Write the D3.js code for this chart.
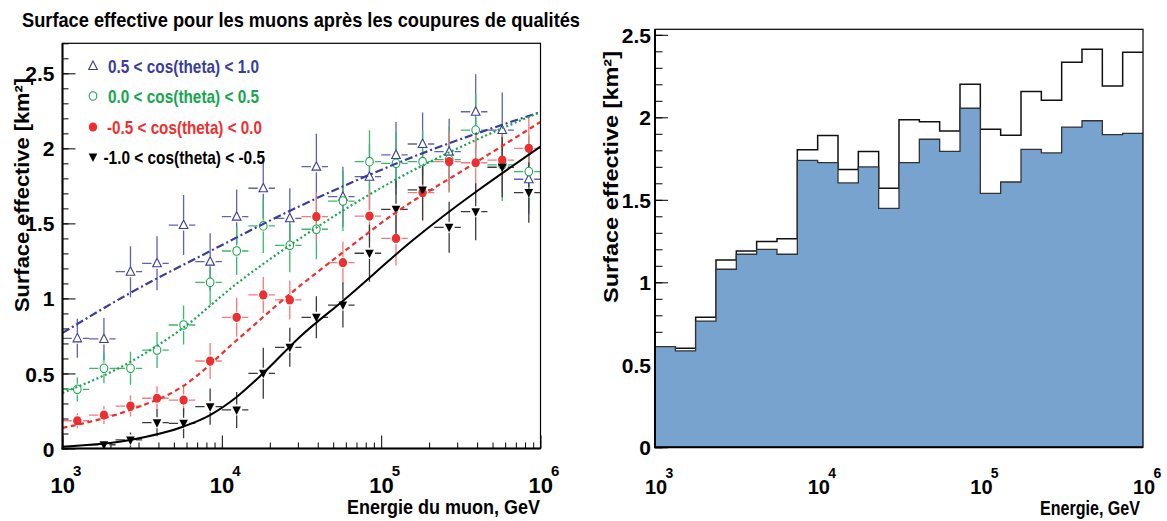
<!DOCTYPE html>
<html><head><meta charset="utf-8">
<script src="https://cdn.jsdelivr.net/npm/d3@7"></script>
<style>
body{margin:0;background:#fff}
text{font-family:"Liberation Sans Narrow","Arial Narrow","Liberation Sans",Arial,sans-serif;font-weight:bold}
</style>
</head><body>
<svg id="c" width="1167" height="521"></svg>
<script>
// ---------------- DATA ----------------
// left panel: energy points (GeV) and bin edges
const energies = [1239,1820,2671,3920,5754,8445,12390,18200,26710,39200,57540,84450,123900,182000,267100,392000,575400,844500];
const binEdges = [1000,1468,2154,3162,4642,6813,10000,14678,21544,31623,46416,68129,100000,146780,215440,316230,464160,681290,1000000];

const seriesLabels = ["0.5 < cos(theta) < 1.0","0.0 < cos(theta) < 0.5","-0.5 < cos(theta) < 0.0","-1.0 < cos(theta) < -0.5"];

const valuesBlue  = [0.734,0.730,1.178,1.234,1.489,1.245,1.545,1.734,1.534,1.878,1.678,1.811,1.956,2.029,1.978,2.244,2.122,1.794];
const errorsBlue  = [0.13,0.14,0.17,0.18,0.20,0.19,0.18,0.20,0.20,0.22,0.20,0.22,0.22,0.21,0.22,0.25,0.25,0.23];
const valuesGreen = [0.394,0.534,0.534,0.656,0.823,1.107,1.316,1.483,1.354,1.461,1.649,1.911,1.900,1.911,1.925,2.122,1.890,1.845];
const errorsGreen = [0.08,0.10,0.11,0.12,0.13,0.15,0.16,0.18,0.18,0.20,0.20,0.21,0.21,0.21,0.22,0.24,0.24,0.24];
const valuesRed   = [0.185,0.223,0.283,0.335,0.323,0.583,0.874,1.023,0.990,1.545,1.238,1.549,1.400,1.705,1.911,1.904,1.922,2.000];
const errorsRed   = [0.05,0.06,0.07,0.08,0.09,0.12,0.13,0.12,0.13,0.16,0.14,0.17,0.18,0.19,0.20,0.21,0.22,0.22];
const valuesBlack = [null,0.025,0.057,0.172,0.168,0.279,0.257,0.501,0.674,0.874,0.956,1.301,1.594,1.723,1.474,1.578,1.874,1.705];
const errorsBlack = [null,0.03,0.05,0.09,0.10,0.12,0.12,0.17,0.13,0.14,0.15,0.19,0.19,0.20,0.17,0.19,0.20,0.20];

// fitted curves: [energy, value]
const fitBlue  = [[1000,0.770],[2656,1.036],[8435,1.315],[30970,1.616],[141300,1.922],[1000000,2.242]];
const fitGreen = [[1000,0.370],[2656,0.576],[5700,0.803],[12450,1.100],[30970,1.400],[122200,1.789],[542000,2.122],[1000000,2.242]];
const fitRed   = [[1000,0.137],[2656,0.257],[5700,0.415],[12450,0.723],[26790,1.030],[56890,1.303],[122200,1.569],[361400,1.882],[1000000,2.176]];
const fitBlack = [[1000,0.012],[2656,0.057],[5700,0.145],[8435,0.223],[12450,0.345],[18150,0.501],[30970,0.745],[57680,0.985],[158500,1.389],[1000000,2.012]];

const yTicksLeft  = [0,0.5,1,1.5,2,2.5];
const yTickLabelsLeft = ["0","0.5","1","1.5","2","2.5"];
const decadeTicks = [1e3,1e4,1e5,1e6];
const decadeExponents = ["3","4","5","6"];

// right panel histogram: 24 log bins (8 per decade)
const histEdges = [1000,1334,1778,2371,3162,4217,5623,7499,10000,13335,17783,23714,31623,42170,56234,74989,100000,133352,177828,237137,316228,421697,562341,749894,1000000];
const histAll = [0.610,0.600,0.788,1.135,1.190,1.248,1.264,1.804,1.889,1.683,1.792,1.570,1.985,1.973,1.917,2.200,1.927,1.891,2.156,2.103,2.333,2.412,2.190,2.394];
const histCut = [0.610,0.585,0.765,1.079,1.170,1.200,1.170,1.739,1.725,1.602,1.699,1.448,1.725,1.867,1.794,2.055,1.539,1.608,1.806,1.784,1.941,1.979,1.895,1.903];
const yTicksRight = [0,0.5,1,1.5,2,2.5];
const yTickLabelsRight = ["0","0.5","1","1.5","2","2.5"];

// ---------------- DRAW ----------------
const svg = d3.select("#c");
const FONT = "\"Liberation Sans Narrow\",\"Arial Narrow\",\"Liberation Sans\",Arial,sans-serif";

function styleAxis(g){
  g.select(".domain").remove();
  g.selectAll(".tick line").attr("stroke","#000").attr("stroke-width",1);
  g.selectAll(".tick text").attr("fill","#000").style("font-family",FONT).style("font-weight","bold");
}
function minorRange(lo,hi,step){ const a=[]; for(let v=lo; v<=hi+1e-9; v+=step) a.push(+v.toFixed(3)); return a; }
function logMinors(lo,hi){ const a=[]; for(let d=lo; d<hi; d*=10) for(let m=2;m<=9;m++) a.push(d*m); return a; }

// ===== LEFT PANEL =====
const xL = d3.scaleLog().domain([1e3,1e6]).range([62.5,540.5]);
const yL = d3.scaleLinear().domain([0,2.7]).range([448.5,43.3]);

svg.append("text").attr("x",22).attr("y",27).attr("font-size",21)
  .attr("textLength",558).attr("lengthAdjust","spacingAndGlyphs")
  .text("Surface effective pour les muons après les coupures de qualités");

const gL = svg.append("g");
gL.append("g").attr("transform","translate(62.5,0)")
  .call(d3.axisLeft(yL).tickValues(minorRange(0,2.7,0.1)).tickSize(-6).tickFormat("")).call(styleAxis);
gL.append("g").attr("transform","translate(62.5,0)")
  .call(d3.axisLeft(yL).tickValues(yTicksLeft).tickSize(-13).tickPadding(8).tickFormat((d,i)=>yTickLabelsLeft[i]))
  .call(styleAxis).selectAll("text").attr("font-size",21).attr("dy","0.36em");
gL.append("g").attr("transform","translate(0,448.5)")
  .call(d3.axisBottom(xL).tickValues(logMinors(1e3,1e6)).tickSize(-6).tickFormat("")).call(styleAxis);
gL.append("g").attr("transform","translate(0,448.5)")
  .call(d3.axisBottom(xL).tickValues(decadeTicks).tickSize(-13).tickFormat("")).call(styleAxis);
decadeTicks.forEach((d,i)=>{
  const x = xL(d);
  svg.append("text").attr("x",x-12).attr("y",493).attr("font-size",22).text("10");
  svg.append("text").attr("x",x+10.5).attr("y",476).attr("font-size",15).text(decadeExponents[i]);
});
svg.append("text").attr("x",347).attr("y",514).attr("font-size",20)
  .attr("textLength",193).attr("lengthAdjust","spacingAndGlyphs").text("Energie du muon, GeV");
svg.append("text").attr("transform","translate(29,312) rotate(-90)").attr("font-size",20)
  .attr("textLength",234).attr("lengthAdjust","spacingAndGlyphs").text("Surface effective [km²]");

svg.append("clipPath").attr("id","clipL").append("rect").attr("x",62.5).attr("y",43.3).attr("width",478).attr("height",405.2);
const plotL = svg.append("g").attr("clip-path","url(#clipL)");

const series = [
  {vals:valuesBlue, errs:errorsBlue, fit:fitBlue, color:"#3a3c9e", bar:"#5d62b6", marker:"triUpOpen", dash:"8,3,2,3"},
  {vals:valuesGreen,errs:errorsGreen,fit:fitGreen,color:"#16a64e", bar:"#3db76a", marker:"circOpen", dash:"2,2.6"},
  {vals:valuesRed,  errs:errorsRed,  fit:fitRed,  color:"#ee2f2f", bar:"#f27a7a", marker:"circFill", dash:"5,3.5"},
  {vals:valuesBlack,errs:errorsBlack,fit:fitBlack,color:"#000000", bar:"#3a3a3a", marker:"triDownFill", dash:null}
];

function drawMarker(g,type,x,y,color){
  if(type==="triUpOpen") g.append("path").attr("d",`M${x},${y-5}L${x+4.3},${y+3.5}L${x-4.3},${y+3.5}Z`).attr("fill","#fff").attr("stroke",color).attr("stroke-width",1.1);
  else if(type==="circOpen") g.append("ellipse").attr("cx",x).attr("cy",y).attr("rx",3.8).attr("ry",4.3).attr("fill","#fff").attr("stroke",color).attr("stroke-width",1.1);
  else if(type==="circFill") g.append("ellipse").attr("cx",x).attr("cy",y).attr("rx",4.2).attr("ry",4.6).attr("fill",color);
  else if(type==="triDownFill") g.append("path").attr("d",`M${x},${y+5}L${x+4.3},${y-3.5}L${x-4.3},${y-3.5}Z`).attr("fill",color);
}

const lineGen = d3.line().x(d=>xL(d[0])).y(d=>yL(d[1])).curve(d3.curveMonotoneX);
const gap = 5.5;
series.forEach(s=>{
  const g = plotL.append("g");
  s.vals.forEach((v,i)=>{
    if(v===null) return;
    const x = xL(energies[i]), y = yL(v);
    const x0 = xL(binEdges[i]), x1 = xL(binEdges[i+1]);
    const yt = yL(v + s.errs[i]), yb = yL(v - s.errs[i]);
    const segs = [[x0,y,x-gap,y],[x+gap,y,x1,y],[x,yt,x,y-gap],[x,y+gap,x,yb]];
    segs.forEach(t=>{ if((t[2]-t[0])>0||(t[3]-t[1])>0) g.append("line").attr("x1",t[0]).attr("y1",t[1]).attr("x2",t[2]).attr("y2",t[3]).attr("stroke",s.bar).attr("stroke-width",1.3); });
  });
});
series.forEach(s=>{
  s.vals.forEach((v,i)=>{ if(v!==null) drawMarker(plotL,s.marker,xL(energies[i]),yL(v),s.color); });
});
series.forEach(s=>{
  plotL.append("path").datum(s.fit).attr("d",lineGen).attr("fill","none").attr("stroke",s.color)
    .attr("stroke-width",s.dash? 2.2 : 2).attr("stroke-dasharray",s.dash);
});

const legendY = [66,96,127,157];
const legendX0 = [108,108,107,103.5];
const legendLen = [151,151,155,161.5];
series.forEach((s,i)=>{
  drawMarker(svg,s.marker,93,legendY[i],s.color);
  svg.append("text").attr("x",legendX0[i]).attr("y",legendY[i]+7).attr("font-size",19).attr("fill",s.color)
    .attr("textLength",legendLen[i]).attr("lengthAdjust","spacingAndGlyphs").text(seriesLabels[i]);
});

svg.append("rect").attr("x",62.5).attr("y",43.3).attr("width",478).attr("height",405.2).attr("fill","none").attr("stroke","#000").attr("stroke-width",1.2);
svg.append("line").attr("x1",62.5).attr("x2",62.5).attr("y1",43.3).attr("y2",449.5).attr("stroke","#000").attr("stroke-width",2);
svg.append("line").attr("x1",61.5).attr("x2",540.5).attr("y1",448.5).attr("y2",448.5).attr("stroke","#000").attr("stroke-width",2);

// ===== RIGHT PANEL =====
const xR = d3.scaleLog().domain([1e3,1e6]).range([655,1143]);
const yR = d3.scaleLinear().domain([0,418/165]).range([447.3,29.3]);
const gR = svg.append("g");
gR.append("g").attr("transform","translate(655,0)")
  .call(d3.axisLeft(yR).tickValues(minorRange(0,2.5,0.1)).tickSize(-7.5).tickFormat("")).call(styleAxis);
gR.append("g").attr("transform","translate(655,0)")
  .call(d3.axisLeft(yR).tickValues(yTicksRight).tickSize(-13).tickPadding(4).tickFormat((d,i)=>yTickLabelsRight[i]))
  .call(styleAxis).selectAll("text").attr("font-size",21).attr("dy","0.36em");

const stepData = arr => arr.map((v,i)=>[histEdges[i],v]).concat([[histEdges[histEdges.length-1],arr[arr.length-1]]]);
const areaR = d3.area().x(d=>xR(d[0])).y0(yR(0)).y1(d=>yR(d[1])).curve(d3.curveStepAfter);
const lineR = d3.line().x(d=>xR(d[0])).y(d=>yR(d[1])).curve(d3.curveStepAfter);
svg.append("path").datum(stepData(histAll)).attr("d",areaR).attr("fill","#fff");
svg.append("path").datum(stepData(histAll)).attr("d",lineR).attr("fill","none").attr("stroke","#111").attr("stroke-width",1.5);
svg.append("path").datum(stepData(histCut)).attr("d",areaR).attr("fill","#79a3cf");
svg.append("path").datum(stepData(histCut)).attr("d",lineR).attr("fill","none").attr("stroke","#333").attr("stroke-width",1.3);

svg.append("rect").attr("x",655).attr("y",29.3).attr("width",488).attr("height",418).attr("fill","none").attr("stroke","#000").attr("stroke-width",1.2);
svg.append("line").attr("x1",655).attr("x2",655).attr("y1",29.3).attr("y2",448).attr("stroke","#000").attr("stroke-width",2);
svg.append("line").attr("x1",654).attr("x2",1143).attr("y1",447.3).attr("y2",447.3).attr("stroke","#000").attr("stroke-width",2);

decadeTicks.forEach((d,i)=>{
  const x = xR(d);
  svg.append("text").attr("x",x-10).attr("y",494).attr("font-size",20).text("10");
  svg.append("text").attr("x",x+10.5).attr("y",478).attr("font-size",14).text(decadeExponents[i]);
});
svg.append("text").attr("x",1040).attr("y",515).attr("font-size",20)
  .attr("textLength",100).attr("lengthAdjust","spacingAndGlyphs").text("Energie, GeV");
svg.append("text").attr("transform","translate(618,303) rotate(-90)").attr("font-size",20)
  .attr("textLength",252).attr("lengthAdjust","spacingAndGlyphs").text("Surface effective [km²]");
</script>
</body></html>
